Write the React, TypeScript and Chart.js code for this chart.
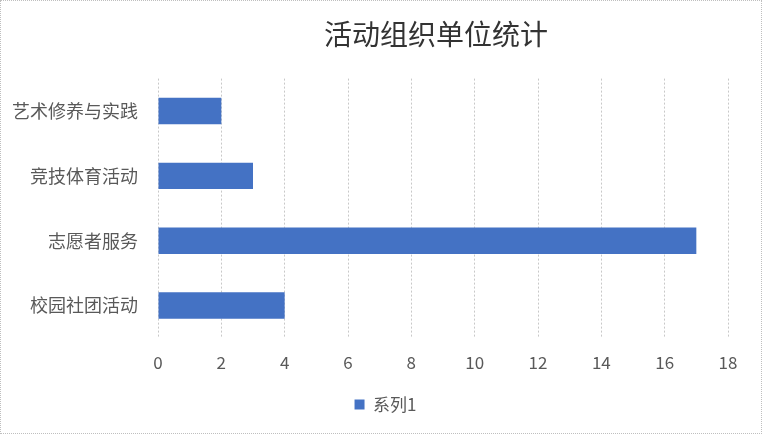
import React, { useEffect, useRef } from "react";
import { Chart, registerables } from "chart.js";

Chart.register(...registerables);

const categories = ["艺术修养与实践", "竞技体育活动", "志愿者服务", "校园社团活动"];
const seriesValues = [2, 3, 17, 4];
const seriesName = "系列1";
const titleText = "活动组织单位统计";
const xMin = 0;
const xMax = 18;
const xStep = 2;

const FONT = "'Noto Sans CJK SC', 'Noto Sans', sans-serif";

const boxShift = {
  id: "boxShift",
  afterLayout(chart: any) {
    const lg = chart.legend;
    if (lg) {
      lg.left += 21;
      lg.right += 21;
    }
    const tt = chart.titleBlock;
    if (tt) {
      tt.left -= 7;
      tt.right -= 7;
    }
  },
};

export default function App() {
  const ref = useRef<HTMLCanvasElement | null>(null);

  useEffect(() => {
    document.body.style.margin = "0";
    const ctx = ref.current;
    if (!ctx) return;
    const chart = new Chart(ctx, {
      type: "bar",
      data: {
        labels: categories,
        datasets: [
          {
            label: seriesName,
            data: seriesValues,
            backgroundColor: "#4472C4",
            borderWidth: 0,
            categoryPercentage: 0.8,
            barPercentage: 0.51,
          },
        ],
      },
      plugins: [boxShift],
      options: {
        indexAxis: "y",
        animation: false,
        responsive: false,
        maintainAspectRatio: false,
        layout: { padding: { left: 0, right: 33, top: 0, bottom: 10 } },
        plugins: {
          title: {
            display: true,
            text: titleText,
            fullSize: false,
            color: "#333333",
            font: { family: FONT, size: 28, weight: "normal" },
            padding: { top: 17, bottom: 27 },
          },
          legend: {
            display: true,
            position: "bottom",
            labels: {
              color: "#595959",
              font: { family: FONT, size: 17 },
              boxWidth: 10,
              boxHeight: 10,
              padding: 8,
            },
          },
          tooltip: { enabled: false },
        },
        scales: {
          x: {
            min: xMin,
            max: xMax,
            ticks: {
              stepSize: xStep,
              color: "#595959",
              font: { family: FONT, size: 17 },
              padding: 14,
            },
            grid: {
              color: "#c8c8c8",
              drawTicks: false,
              lineWidth: 1,
            },
            border: { display: false, dash: [2, 2] },
            afterFit: (scale: any) => {
              scale.height = 50;
            },
          },
          y: {
            ticks: {
              color: "#595959",
              font: { family: FONT, size: 18 },
              padding: 12,
            },
            grid: { display: false },
            border: { display: false },
            afterFit: (scale: any) => {
              scale.width = 157;
            },
          },
        },
      },
    });
    return () => chart.destroy();
  }, []);

  return (
    <div
      style={{
        position: "absolute",
        left: 0,
        top: 0,
        width: 762,
        height: 434,
        boxSizing: "border-box",
        border: "1px dotted #bfbfbf",
        background: "#fff",
      }}
    >
      <canvas ref={ref} width={760} height={432} style={{ display: "block" }} />
    </div>
  );
}
